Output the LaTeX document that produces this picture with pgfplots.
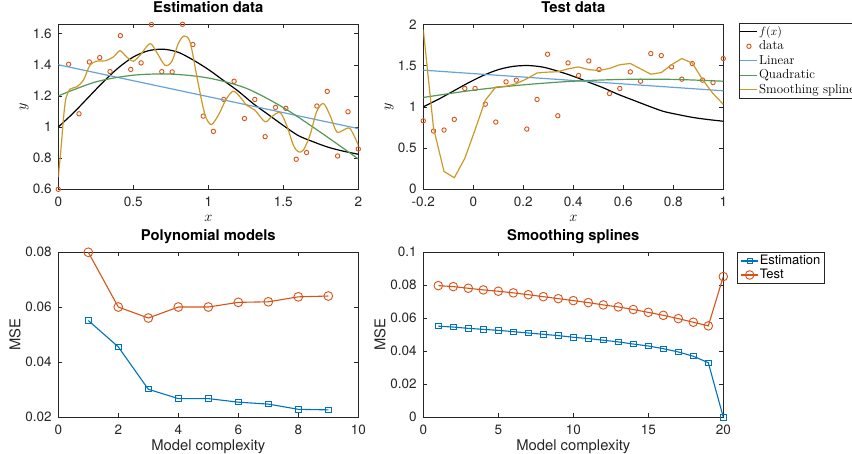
\documentclass[border=0pt]{standalone}
\usepackage{fontspec}
\usepackage{pgfplots}
\pgfplotsset{compat=1.18}
\newfontfamily\hv{TeX Gyre Heros}
\definecolor{mblue}{rgb}{0,0.447,0.741}
\definecolor{morange}{rgb}{0.85,0.325,0.098}
\definecolor{lblue}{rgb}{0.40,0.64,0.86}
\definecolor{lgreen}{rgb}{0.33,0.60,0.33}
\definecolor{lgold}{rgb}{0.80,0.60,0.16}
\definecolor{axgray}{rgb}{0.15,0.15,0.15}

\pgfplotsset{mstyle/.style={
  scale only axis, width=300pt, height=165pt,
  axis line style={axgray, line width=0.5pt},
  every tick/.style={axgray, line width=0.5pt},
  tick align=inside, major tick length=4pt,
  xtick pos=both, ytick pos=both,
  clip mode=individual,
  tick label style={font=\hv\fontsize{13.5}{16}\selectfont, text=axgray, inner sep=0pt},
  xticklabel style={yshift=-7.5pt},
  yticklabel style={xshift=-6.5pt},
  title style={font=\hv\bfseries\fontsize{14.8}{17}\selectfont, at={(axis description cs:0.5,1)}, anchor=base, yshift=6pt},
  scaled ticks=false,
}}

\begin{document}
\begin{tikzpicture}
\useasboundingbox (0,0) rectangle (852pt,454pt);

% ---------------- Estimation data ----------------
\begin{axis}[mstyle, at={(58.3pt,264.7pt)}, anchor=south west,
  xmin=0, xmax=2, ymin=0.6, ymax=1.66,
  xtick={0,0.5,1,1.5,2}, xticklabels={0,0.5,1,1.5,2},
  ytick={0.6,0.8,1,1.2,1.4,1.6}, yticklabels={0.6,0.8,1,1.2,1.4,1.6},
  title={Estimation data},
  xlabel={$x$}, ylabel={$y$},
  xlabel style={at={(axis description cs:0.5,-0.175)}, anchor=center, font=\fontsize{15}{18}\selectfont},
  ylabel style={at={(axis description cs:-0.114,0.5)}, anchor=center, font=\fontsize{15}{18}\selectfont},
]
\addplot[black, line width=1.2pt, smooth] coordinates {
(0,1.00) (0.1,1.09) (0.2,1.19) (0.3,1.29) (0.4,1.38) (0.5,1.45) (0.6,1.49) (0.7,1.50)
(0.8,1.48) (0.9,1.43) (1.0,1.37) (1.1,1.30) (1.2,1.23) (1.3,1.15) (1.4,1.08) (1.5,1.01)
(1.6,0.945) (1.7,0.905) (1.8,0.87) (1.9,0.845) (2.0,0.825)};
\addplot[only marks, mark=o, mark size=2.2pt, mark options={line width=0.9pt}, color=morange] coordinates {
(0,0.600) (0.069,1.403) (0.138,1.085) (0.207,1.418) (0.276,1.446) (0.345,1.356)
(0.414,1.587) (0.483,1.370) (0.552,1.412) (0.621,1.658) (0.690,1.356) (0.759,1.354)
(0.828,1.660) (0.897,1.530) (0.966,1.070) (1.034,0.972) (1.103,1.177) (1.172,1.294)
(1.241,1.055) (1.310,1.177) (1.379,0.938) (1.448,1.126) (1.517,1.120) (1.586,0.793)
(1.655,0.836) (1.724,1.135) (1.793,1.229) (1.862,0.814) (1.931,1.098) (2.0,0.859)};
\addplot[lblue, line width=1.2pt] coordinates {(0,1.40) (2,0.99)};
\addplot[lgreen, line width=1.2pt, smooth] coordinates {
(0,1.20) (0.25,1.29) (0.5,1.333) (0.75,1.34) (1.0,1.315) (1.25,1.25) (1.5,1.125) (1.75,0.965) (2.0,0.795)};
\addplot[lgold, line width=1.2pt, smooth, tension=0.5] coordinates {
(0,0.68) (0.018,0.86) (0.035,1.06) (0.05,1.18) (0.078,1.243) (0.122,1.258) (0.167,1.30)
(0.211,1.397) (0.256,1.423) (0.311,1.425) (0.367,1.45) (0.411,1.49) (0.456,1.45) (0.5,1.423)
(0.544,1.46) (0.611,1.536) (0.656,1.48) (0.711,1.397) (0.756,1.42) (0.8,1.536) (0.838,1.585)
(0.878,1.547) (0.922,1.333) (0.945,1.22) (0.967,1.12) (0.989,1.05) (1.022,1.016) (1.067,1.076)
(1.122,1.183) (1.167,1.23) (1.211,1.194) (1.256,1.14) (1.311,1.108) (1.378,1.034) (1.422,1.066)
(1.478,1.093) (1.522,1.012) (1.567,0.884) (1.6,0.841) (1.634,0.852) (1.678,0.948) (1.722,1.098)
(1.767,1.151) (1.811,1.076) (1.856,0.969) (1.9,0.98) (1.945,0.99) (2.0,0.884)};
\end{axis}

% ---------------- Test data ----------------
\begin{axis}[mstyle, at={(423.3pt,264.7pt)}, anchor=south west,
  xmin=-0.2, xmax=1, ymin=0, ymax=2,
  xtick={-0.2,0,0.2,0.4,0.6,0.8,1}, xticklabels={-0.2,0,0.2,0.4,0.6,0.8,1},
  ytick={0,0.5,1,1.5,2}, yticklabels={0,0.5,1,1.5,2},
  title={Test data},
  xlabel={$x$}, ylabel={$y$},
  xlabel style={at={(axis description cs:0.5,-0.175)}, anchor=center, font=\fontsize{15}{18}\selectfont},
  ylabel style={at={(axis description cs:-0.114,0.5)}, anchor=center, font=\fontsize{15}{18}\selectfont},
  legend style={at={(axis description cs:1.051,1.006)}, anchor=north west, draw=axgray,
    font=\fontsize{13}{15}\selectfont, inner sep=1pt,
    nodes={inner sep=1pt, text height=9.5pt, text depth=3pt}},
  legend cell align=left,
]
\addplot[black, line width=1.2pt, smooth] coordinates {
(-0.2,1.00) (-0.14,1.09) (-0.08,1.19) (-0.02,1.29) (0.04,1.38) (0.10,1.45) (0.16,1.49) (0.22,1.50)
(0.28,1.48) (0.34,1.43) (0.40,1.37) (0.46,1.30) (0.52,1.23) (0.58,1.15) (0.64,1.08) (0.70,1.01)
(0.76,0.945) (0.82,0.905) (0.88,0.87) (0.94,0.845) (1.0,0.825)};
\addlegendentry{$f(x)$}
\addplot[only marks, mark=o, mark size=2.2pt, mark options={line width=0.9pt}, color=morange] coordinates {
(-0.200,0.830) (-0.159,0.706) (-0.117,0.718) (-0.076,0.847) (-0.034,1.222) (0.007,1.222)
(0.048,1.032) (0.090,0.815) (0.131,1.302) (0.172,1.323) (0.214,0.730) (0.255,1.089)
(0.297,1.637) (0.338,0.891) (0.379,1.532) (0.421,1.379) (0.462,1.556) (0.503,1.452)
(0.545,1.161) (0.586,1.222) (0.628,1.423) (0.669,1.310) (0.710,1.645) (0.752,1.621)
(0.793,1.484) (0.834,1.335) (0.876,1.524) (0.917,1.323) (0.959,1.294) (1.000,1.585)};
\addlegendentry{data}
\addplot[lblue, line width=1.2pt] coordinates {(-0.2,1.444) (1,1.194)};
\addlegendentry{Linear}
\addplot[lgreen, line width=1.2pt, smooth] coordinates {
(-0.2,1.113) (0,1.201) (0.2,1.266) (0.4,1.310) (0.6,1.332) (0.8,1.332) (1.0,1.310)};
\addlegendentry{Quadratic}
\addplot[lgold, line width=1.2pt] coordinates {
(-0.200,1.935) (-0.159,0.74) (-0.117,0.215) (-0.076,0.14) (-0.034,0.375) (0.007,0.72)
(0.048,1.08) (0.090,1.24) (0.131,1.25) (0.172,1.28) (0.214,1.34) (0.255,1.41)
(0.297,1.42) (0.338,1.425) (0.379,1.46) (0.421,1.483) (0.462,1.45) (0.503,1.44)
(0.545,1.465) (0.586,1.51) (0.628,1.525) (0.669,1.46) (0.710,1.395) (0.752,1.415)
(0.793,1.51) (0.834,1.585) (0.876,1.53) (0.917,1.33) (0.959,1.16) (1.000,1.03)};
\addlegendentry{Smoothing spline}
\end{axis}

% ---------------- Polynomial models ----------------
\begin{axis}[mstyle, at={(58.3pt,36.7pt)}, anchor=south west,
  xmin=0, xmax=10, ymin=0.02, ymax=0.08,
  xtick={0,2,4,6,8,10}, xticklabels={0,2,4,6,8,10},
  ytick={0.02,0.04,0.06,0.08}, yticklabels={0.02,0.04,0.06,0.08},
  title={Polynomial models},
  xlabel={Model complexity}, ylabel={MSE},
  xlabel style={at={(axis description cs:0.5,-0.2)}, anchor=base, font=\hv\fontsize{14.8}{17}\selectfont, text=axgray},
  ylabel style={at={(axis description cs:-0.144,0.5)}, anchor=center, font=\hv\fontsize{14.8}{17}\selectfont, text=axgray},
]
\addplot[mblue, line width=1.1pt, mark=square, mark size=2.7pt, mark options={line width=0.9pt}] coordinates {
(1,0.0552) (2,0.0456) (3,0.0302) (4,0.0268) (5,0.0268) (6,0.0255) (7,0.0248) (8,0.0229) (9,0.0227)};
\addplot[morange, line width=1.1pt, mark=o, mark size=4.4pt, mark options={line width=0.9pt}] coordinates {
(1,0.0800) (2,0.0601) (3,0.0561) (4,0.0601) (5,0.0601) (6,0.0618) (7,0.0620) (8,0.0638) (9,0.0641)};
\end{axis}

% ---------------- Smoothing splines ----------------
\begin{axis}[mstyle, at={(423.3pt,36.7pt)}, anchor=south west,
  xmin=0, xmax=20, ymin=0, ymax=0.1,
  xtick={0,5,10,15,20}, xticklabels={0,5,10,15,20},
  ytick={0,0.02,0.04,0.06,0.08,0.1}, yticklabels={0,0.02,0.04,0.06,0.08,0.1},
  title={Smoothing splines},
  xlabel={Model complexity}, ylabel={MSE},
  xlabel style={at={(axis description cs:0.5,-0.2)}, anchor=base, font=\hv\fontsize{14.8}{17}\selectfont, text=axgray},
  ylabel style={at={(axis description cs:-0.144,0.5)}, anchor=center, font=\hv\fontsize{14.8}{17}\selectfont, text=axgray},
  legend style={at={(axis description cs:1.047,1.0)}, anchor=north west, draw=axgray,
    font=\hv\fontsize{13}{15}\selectfont, inner xsep=3pt, inner ysep=1.5pt,
    nodes={inner sep=1pt, text height=9.5pt, text depth=2.5pt}},
  legend cell align=left,
]
\addplot[mblue, line width=1.1pt, mark=square, mark size=2.7pt, mark options={line width=0.9pt}] coordinates {
(1,0.0552) (2,0.0547) (3,0.0539) (4,0.0533) (5,0.0527) (6,0.0519) (7,0.0511) (8,0.0503) (9,0.0495) (10,0.0485)
(11,0.0477) (12,0.0467) (13,0.0457) (14,0.0444) (15,0.0432) (16,0.0416) (17,0.0396) (18,0.0370) (19,0.0331) (20,0.0)};
\addlegendentry{Estimation}
\addplot[morange, line width=1.1pt, mark=o, mark size=4.3pt, mark options={line width=0.9pt}] coordinates {
(1,0.0798) (2,0.0792) (3,0.0782) (4,0.0772) (5,0.0764) (6,0.0754) (7,0.0743) (8,0.0731) (9,0.0719) (10,0.0707)
(11,0.0695) (12,0.0681) (13,0.0669) (14,0.0653) (15,0.0636) (16,0.0618) (17,0.0598) (18,0.0576) (19,0.0554) (20,0.0853)};
\addlegendentry{Test}
\end{axis}
\end{tikzpicture}
\end{document}
